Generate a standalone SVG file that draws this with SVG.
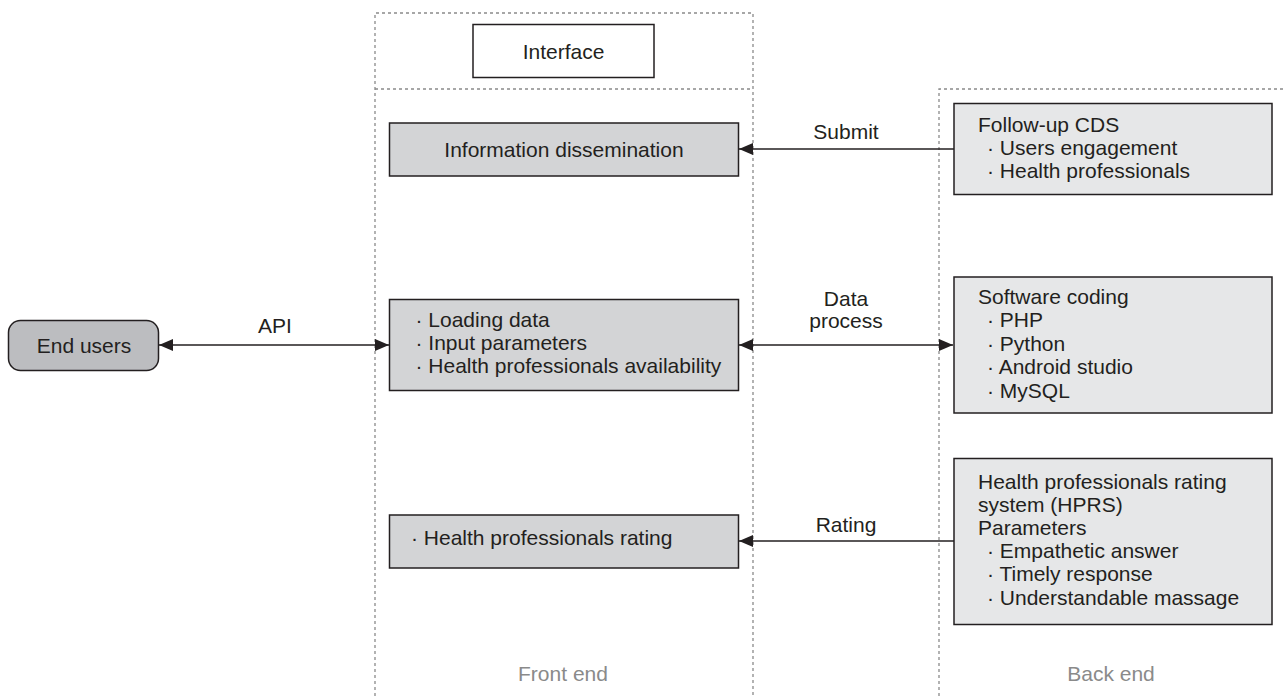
<svg xmlns="http://www.w3.org/2000/svg" width="1284" height="696" viewBox="0 0 1284 696">
<style>
.t{font-family:"Liberation Sans",Arial,sans-serif;font-size:21px;fill:#231f20}
.g{font-family:"Liberation Sans",Arial,sans-serif;font-size:21px;fill:#8a8a8a}
.m{text-anchor:middle}
.dash{fill:none;stroke:#8a8a8a;stroke-width:1.3;stroke-dasharray:3 3}
.box{stroke:#231f20;stroke-width:1.5}
.fe{fill:#d3d4d6}
.be{fill:#e6e7e8}
.con{fill:none;stroke:#231f20;stroke-width:1.5}
</style>
<defs>
<marker id="ah" viewBox="0 0 14 12" refX="14" refY="6" markerWidth="14" markerHeight="12" markerUnits="userSpaceOnUse" orient="auto-start-reverse">
<path d="M0,0 L14,6 L0,12 Z" fill="#231f20"/>
</marker>
</defs>
<rect width="1284" height="696" fill="#ffffff"/>
<g id="regions">
<path class="dash" d="M375,696 V13 H753 V696"/>
<path class="dash" d="M375,89 H753"/>
<path class="dash" d="M939,696 V89 H1284"/>
<text class="g m" x="563" y="681">Front end</text>
<text class="g m" x="1111" y="681">Back end</text>
</g>
<g id="interface">
<rect class="box" x="473" y="24.5" width="181" height="53" fill="#ffffff"/>
<text class="t m" x="563.5" y="59">Interface</text>
</g>
<g id="end-users">
<rect class="box" x="8.5" y="320.5" width="150" height="50" rx="12" fill="#bcbdc0"/>
<text class="t m" x="84" y="353">End users</text>
</g>
<g id="info-dissemination">
<rect class="box fe" x="389.5" y="123" width="349" height="53"/>
<text class="t m" x="564" y="157">Information dissemination</text>
</g>
<g id="loading">
<rect class="box fe" x="389.5" y="299.5" width="349" height="91"/>
<text class="t" x="415.5" y="327">· Loading data</text>
<text class="t" x="415.5" y="350">· Input parameters</text>
<text class="t" x="415.5" y="373">· Health professionals availability</text>
</g>
<g id="hp-rating">
<rect class="box fe" x="389.5" y="515" width="349" height="53"/>
<text class="t" x="411" y="545">· Health professionals rating</text>
</g>
<g id="follow-up">
<rect class="box be" x="954" y="103.5" width="318" height="91"/>
<text class="t" x="978" y="132">Follow-up CDS</text>
<text class="t" x="987" y="155">· Users engagement</text>
<text class="t" x="987" y="178">· Health professionals</text>
</g>
<g id="software">
<rect class="box be" x="954" y="277" width="318" height="136"/>
<text class="t" x="978" y="304">Software coding</text>
<text class="t" x="987" y="327">· PHP</text>
<text class="t" x="987" y="350.5">· Python</text>
<text class="t" x="987" y="374">· Android studio</text>
<text class="t" x="987" y="397.5">· MySQL</text>
</g>
<g id="hprs">
<rect class="box be" x="954" y="458.5" width="318" height="166"/>
<text class="t" x="978" y="489">Health professionals rating</text>
<text class="t" x="978" y="512">system (HPRS)</text>
<text class="t" x="978" y="535">Parameters</text>
<text class="t" x="987" y="558">· Empathetic answer</text>
<text class="t" x="987" y="581">· Timely response</text>
<text class="t" x="987" y="605">· Understandable massage</text>
</g>
<g id="connectors">
<line class="con" x1="159" y1="345" x2="389" y2="345" marker-start="url(#ah)" marker-end="url(#ah)"/>
<text class="t m" x="275" y="333">API</text>
<line class="con" x1="954" y1="149" x2="739" y2="149" marker-end="url(#ah)"/>
<text class="t m" x="846" y="139">Submit</text>
<line class="con" x1="739" y1="345" x2="953" y2="345" marker-start="url(#ah)" marker-end="url(#ah)"/>
<text class="t m" x="846" y="305.5">Data</text>
<text class="t m" x="846" y="328">process</text>
<line class="con" x1="954" y1="541" x2="739" y2="541" marker-end="url(#ah)"/>
<text class="t m" x="846" y="532">Rating</text>
</g>
</svg>
